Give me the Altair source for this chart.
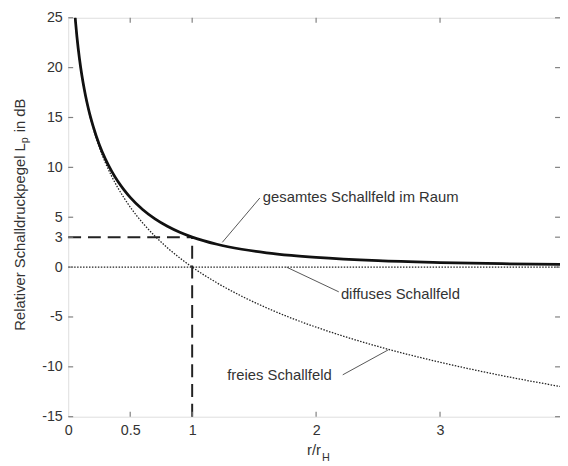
import altair as alt
import pandas as pd

# ---------------- data ----------------
r_vals = [0.056, 0.06, 0.07, 0.08, 0.09, 0.1, 0.12, 0.14, 0.16, 0.18, 0.2, 0.25,
          0.3, 0.35, 0.4, 0.45, 0.5, 0.6, 0.7, 0.8, 0.9, 1.0, 1.2, 1.4, 1.6,
          1.8, 2.0, 2.5, 3.0, 3.5, 4.0]
total_field = [25.05, 24.45, 23.12, 21.97, 20.95, 20.04, 18.48, 17.16, 16.03,
               15.03, 14.15, 12.30, 10.83, 9.62, 8.60, 7.74, 6.99, 5.77, 4.83,
               4.09, 3.49, 3.01, 2.29, 1.79, 1.43, 1.17, 0.97, 0.64, 0.46,
               0.34, 0.26]
free_field = [25.04, 24.44, 23.10, 21.94, 20.92, 20.0, 18.42, 17.08, 15.92,
              14.89, 13.98, 12.04, 10.46, 9.12, 7.96, 6.94, 6.02, 4.44, 3.10,
              1.94, 0.92, 0.0, -1.58, -2.92, -4.08, -5.11, -6.02, -7.96,
              -9.54, -10.88, -12.04]
diffuse_x = [0, 4]
diffuse_y = [0, 0]

dash_h_x = [0, 1]
dash_h_y = [3, 3]
dash_v_x = [1, 1]
dash_v_y = [-15, 3]

x_ticks = [0, 0.5, 1, 2, 3, 4]
y_ticks = [-15, -10, -5, 0, 3, 5, 10, 15, 20, 25]
x_inner_ticks = [0.5, 1, 2, 3]

label_texts = ["gesamtes Schallfeld im Raum", "diffuses Schallfeld", "freies Schallfeld"]
label_x = [1.57, 2.20, 1.283]
label_y = [7.0, -2.67, -10.8]

leader_id = ["a", "a", "b", "b", "c", "c"]
leader_x = [1.546, 1.243, 2.183, 1.761, 2.215, 2.582]
leader_y = [6.93, 2.48, -2.48, 0.0, -10.8, -8.3]

# ---------------- layout ----------------
W, H = 498, 404
FONT = "Liberation Sans"
TXT = "#333333"
AX = "#808080"

xscale = alt.Scale(domain=[0, 3.968], nice=False, zero=False)
yscale = alt.Scale(domain=[-15, 25], nice=False, zero=False)
xaxis = alt.Axis(values=x_ticks, ticks=False, domain=False, grid=False,
                 labelFontSize=14.5, labelColor=TXT, labelFont=FONT,
                 labelPadding=7, title="", labelFlush=False,
                 labelExpr="'' + datum.value")
yaxis = alt.Axis(values=y_ticks, ticks=False, domain=False, grid=False,
                 labelFontSize=14.5, labelColor=TXT, labelFont=FONT,
                 labelPadding=6, title="", labelExpr="'' + datum.value")


def X(f):
    return alt.X(f, type="quantitative", scale=xscale, axis=xaxis)


def Y(f):
    return alt.Y(f, type="quantitative", scale=yscale, axis=yaxis)


curves = pd.DataFrame({"r": r_vals, "total": total_field, "free": free_field})

total_line = alt.Chart(curves).mark_line(
    color="#111111", strokeWidth=2.8, clip=True, interpolate="monotone"
).encode(x=X("r"), y=Y("total"))

free_line = alt.Chart(curves).mark_line(
    color="#222222", strokeWidth=1.3, strokeDash=[1.5, 1.5], clip=True,
    interpolate="monotone"
).encode(x=X("r"), y=Y("free"))

diffuse_line = alt.Chart(pd.DataFrame({"x": diffuse_x, "y": diffuse_y})).mark_line(
    color="#222222", strokeWidth=1.3, strokeDash=[1.5, 1.5], clip=True
).encode(x=X("x"), y=Y("y"))

dash_h = alt.Chart(pd.DataFrame({"x": dash_h_x, "y": dash_h_y})).mark_line(
    color="#222222", strokeWidth=2, strokeDash=[13, 7]
).encode(x=X("x"), y=Y("y"))

dash_v = alt.Chart(pd.DataFrame({"x": dash_v_x, "y": dash_v_y})).mark_line(
    color="#222222", strokeWidth=2, strokeDash=[13, 7]
).encode(x=X("x"), y=Y("y"))

# inward ticks
yt = pd.DataFrame({"y": y_ticks})
xt = pd.DataFrame({"x": x_inner_ticks})
left_ticks = alt.Chart(yt).mark_rule(color=AX, strokeWidth=1.2).encode(
    y=Y("y"), x=alt.value(0), x2=alt.value(5))
right_ticks = alt.Chart(yt).mark_rule(color=AX, strokeWidth=1.2).encode(
    y=Y("y"), x=alt.value(W - 5), x2=alt.value(W))
bottom_ticks = alt.Chart(xt).mark_rule(color=AX, strokeWidth=1.2).encode(
    x=X("x"), y=alt.value(H - 5), y2=alt.value(H))
top_ticks = alt.Chart(xt).mark_rule(color=AX, strokeWidth=1.2).encode(
    x=X("x"), y=alt.value(0), y2=alt.value(5))

# annotations
labels = alt.Chart(pd.DataFrame({"t": label_texts, "x": label_x, "y": label_y})).mark_text(
    align="left", baseline="middle", fontSize=15, font=FONT, color=TXT
).encode(x=X("x"), y=Y("y"), text="t:N")

leaders = alt.Chart(pd.DataFrame({"id": leader_id, "x": leader_x, "y": leader_y})).mark_line(
    color="#555555", strokeWidth=1
).encode(x=X("x"), y=Y("y"), detail="id:N")

# axis titles with subscripts
def txt(s, x, y, size, align, angle=0):
    return alt.Chart(pd.DataFrame({"t": [s]})).mark_text(
        align=align, baseline="middle", fontSize=size, font=FONT, color=TXT,
        angle=angle
    ).encode(x=alt.value(x), y=alt.value(y), text="t:N")

ytitle = (txt("Relativer Schalldruckpegel L", -49, 127, 15, "right", 270)
          + txt("p", -44, 127, 11, "left", 270)
          + txt("in dB", -49, 116, 15, "left", 270))
xtitle = (txt("r/r", 256, 438, 15, "right")
          + txt("H", 257, 446, 11, "left"))

chart = alt.layer(
    diffuse_line, free_line, dash_h, dash_v, total_line, leaders, labels,
    left_ticks, right_ticks, bottom_ticks, top_ticks, ytitle, xtitle
).properties(
    width=W, height=H,
    autosize=alt.AutoSizeParams(type="none"),
    padding={"left": 61, "top": 7, "right": 0, "bottom": 44},
).configure_view(
    stroke=AX, strokeWidth=1.5
).configure(background="white")

chart.save("out.html", embed_options={"renderer": "svg", "actions": False})
